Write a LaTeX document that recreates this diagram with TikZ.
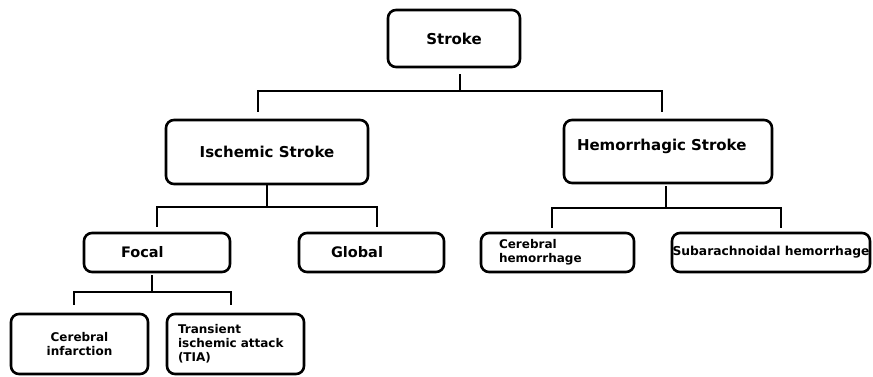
\documentclass[tikz,border=0pt]{standalone}
\usepackage{fontspec}
\setmainfont{DejaVu Sans}
\usetikzlibrary{calc}
\tikzset{
  box/.style={draw, line width=2.6pt, rounded corners=8pt, inner sep=0pt},
  big/.style={font=\bfseries\fontsize{15}{18}\selectfont},
  mid/.style={font=\bfseries\fontsize{14.5}{17}\selectfont},
  small/.style={font=\bfseries\fontsize{12}{14}\selectfont},
  conn/.style={line width=2pt},
}
\begin{document}
\begin{tikzpicture}[x=1pt,y=-1pt]
\useasboundingbox (0,0) rectangle (873,377);
% level 0
\node[box,big,minimum width=132pt,minimum height=57pt] (stroke) at (454,38.5) {Stroke};
% level 1
\node[box,big,minimum width=202pt,minimum height=64pt] (isch) at (267,152) {Ischemic Stroke};
\node[box,big,minimum width=208pt,minimum height=63pt,inner xsep=13pt,text width=182pt,align=left,
      text height=30pt,text depth=33pt] (hem) at (668,151.5) {Hemorrhagic Stroke};
% level 2
\node[box,mid,minimum width=146pt,minimum height=39pt,inner xsep=37pt,text width=72pt,align=left] (focal) at (157,252.5) {Focal};
\node[box,mid,minimum width=145pt,minimum height=39pt,inner xsep=32pt,text width=81pt,align=left] (global) at (371.5,252.5) {Global};
\node[box,small,minimum width=153pt,minimum height=39pt,inner xsep=18pt,text width=117pt,align=left] (cerhem) at (557.5,252.5) {Cerebral\\hemorrhage};
\node[box,minimum width=198pt,minimum height=39pt,font=\bfseries\fontsize{12.3}{14}\selectfont] (subarach) at (771,252.5) {Subarachnoidal hemorrhage};
% level 3
\node[box,small,minimum width=137pt,minimum height=60pt,text width=137pt,align=center] (cerinf) at (79.5,344) {Cerebral\\infarction};
\node[box,small,minimum width=137pt,minimum height=60pt,inner xsep=11pt,text width=115pt,align=left] (tia) at (235.5,344) {Transient\\ischemic attack\\(TIA)};
% connectors
\draw[conn] ($(stroke.south)+(6,6)$) -- ($(stroke.south)+(6,23)$);
\draw[conn] ($(isch.north)+(-9,-7)$) |- ($(hem.north)+(-6,-28)$) -- ($(hem.north)+(-6,-7)$);
\draw[conn] (isch.south) -- ($(isch.south)+(0,22)$);
\draw[conn] ($(focal.north)+(0,-5)$) |- ($(global.north)+(5.5,-25)$) -- ($(global.north)+(5.5,-5)$);
\draw[conn] ($(hem.south)+(-2,2)$) -- ($(hem.south)+(-2,24)$);
\draw[conn] ($(cerhem.north)+(-5.5,-4)$) |- ($(subarach.north)+(10,-24)$) -- ($(subarach.north)+(10,-4)$);
\draw[conn] ($(focal.south)+(-5,2)$) -- ($(focal.south)+(-5,19)$);
\draw[conn] ($(cerinf.north)+(-5.5,-8)$) |- ($(tia.north)+(-5,-21)$) -- ($(tia.north)+(-5,-8)$);
\end{tikzpicture}
\end{document}
